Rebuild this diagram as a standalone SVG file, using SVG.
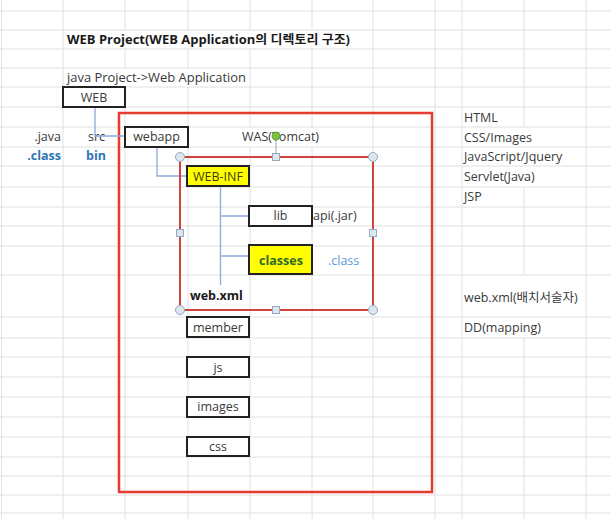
<svg xmlns="http://www.w3.org/2000/svg" width="611" height="519" viewBox="0 0 611 519">
<style>
text{font-family:"Open Sans","Noto Sans CJK KR",sans-serif;font-size:12.5px;fill:#3a3a3a}
.b{font-weight:bold;fill:#1a1a1a}
.blue{fill:#2e75b6;font-weight:bold}
.lblue{fill:#5b9bd5}
.mid{text-anchor:middle}
.end{text-anchor:end}
.grid{stroke:#e0e0e0;stroke-width:1;fill:none}
.box{fill:#fff;stroke:#222;stroke-width:2}
.ybox{fill:#ffff00;stroke:#222;stroke-width:2}
.conn{stroke:#8eaadb;stroke-width:1.3;fill:none}
.hc{fill:#dce6f0;stroke:#97a9bb;stroke-width:1}
</style>
<rect width="611" height="519" fill="#fff"/>
<g id="grid" class="grid">
<path d="M0,11H611M0,30H611M0,49H611M0,68H611M0,87H611M0,107H611M0,127H611M0,147H611M0,166H611M0,187H611M0,207H611M0,226H611M0,246H611M0,275H611M0,317H611M0,338H611M0,357H611M0,377H611M0,397H611M0,417H611M0,437H611M0,457H611M0,476H611M0,495H611M0,513H611"/>
<path d="M1.5,0V519M63,0V519M435,0V519M462,0V519M586,0V519"/>
<path d="M125,0V30M125,49V68M125,87V519"/>
<path d="M188,0V30M188,49V68M188,87V519"/>
<path d="M250,0V30M250,49V127M250,147V519"/>
<path d="M312,0V30M312,49V127M312,147V519"/>
<path d="M373,0V519"/>
<path d="M524,0V127M524,187V275M524,338V519"/>
</g>
<g id="texts">
<text class="b" x="67" y="44" textLength="283" lengthAdjust="spacingAndGlyphs">WEB Project(WEB Application의 디렉토리 구조)</text>
<text x="67" y="82" textLength="179" lengthAdjust="spacingAndGlyphs">java Project-&gt;Web Application</text>
<text class="end" x="61" y="141">.java</text>
<text class="end blue" x="61" y="160">.class</text>
<text x="88" y="141">src</text>
<text class="blue" x="86" y="160">bin</text>
<text x="242" y="141">WAS(Tomcat)</text>
<text x="313" y="220">api(.jar)</text>
<text class="lblue" x="328" y="265">.class</text>
<text class="b" x="190" y="300">web.xml</text>
<text x="464" y="122">HTML</text>
<text x="464" y="142">CSS/Images</text>
<text x="464" y="161">JavaScript/Jquery</text>
<text x="464" y="181">Servlet(Java)</text>
<text x="464" y="201">JSP</text>
<text x="464" y="302">web.xml(배치서술자)</text>
<text x="464" y="332">DD(mapping)</text>
</g>
<rect id="was-frame" x="119" y="113" width="313" height="379" fill="none" stroke="#e63b2e" stroke-width="2.5"/>
<g id="connectors" class="conn">
<path d="M95,107V136H125"/>
<path d="M157,147V176H187"/>
<path d="M220.5,186V285M220.5,216H249M220.5,256H249"/>
</g>
<g id="web"><rect class="box" x="63" y="87" width="62" height="20"/><text class="mid" x="94" y="102">WEB</text></g>
<g id="webapp"><rect class="box" x="125" y="127" width="63" height="20"/><text class="mid" x="156.5" y="141">webapp</text></g>
<g id="web-inf"><rect class="ybox" x="187" y="166" width="62" height="20"/><text class="mid" x="218" y="181" style="fill:#3d3d10">WEB-INF</text></g>
<g id="lib"><rect class="box" x="249" y="206" width="63" height="20"/><text class="mid" x="280.5" y="220">lib</text></g>
<g id="classes"><rect class="ybox" x="249" y="245" width="63" height="29"/><text class="mid" x="281" y="265" style="fill:#2f6a2a;font-weight:bold">classes</text></g>
<g id="member"><rect class="box" x="187" y="317" width="62" height="20"/><text class="mid" x="218" y="332">member</text></g>
<g id="js"><rect class="box" x="187" y="357" width="62" height="20"/><text class="mid" x="218" y="372">js</text></g>
<g id="images"><rect class="box" x="187" y="397" width="62" height="20"/><text class="mid" x="218" y="411">images</text></g>
<g id="css"><rect class="box" x="187" y="437" width="62" height="19"/><text class="mid" x="218" y="451">css</text></g>
<g id="selection">
<rect x="180" y="157" width="193" height="153" fill="none" stroke="#d0433d" stroke-width="2"/>
<line x1="276" y1="140" x2="276" y2="157" stroke="#97a9bb" stroke-width="1"/>
<circle cx="276" cy="136" r="4" fill="#7cc242" stroke="#5a9a30" stroke-width="0.8"/>
<circle class="hc" cx="180" cy="157" r="4.5"/>
<circle class="hc" cx="373" cy="157" r="4.5"/>
<circle class="hc" cx="180" cy="310" r="4.5"/>
<circle class="hc" cx="373" cy="310" r="4.5"/>
<rect class="hc" x="272.5" y="153.5" width="7" height="7"/>
<rect class="hc" x="272.5" y="306.5" width="7" height="7"/>
<rect class="hc" x="176.5" y="229.5" width="7" height="7"/>
<rect class="hc" x="369.5" y="229.5" width="7" height="7"/>
</g>
</svg>
